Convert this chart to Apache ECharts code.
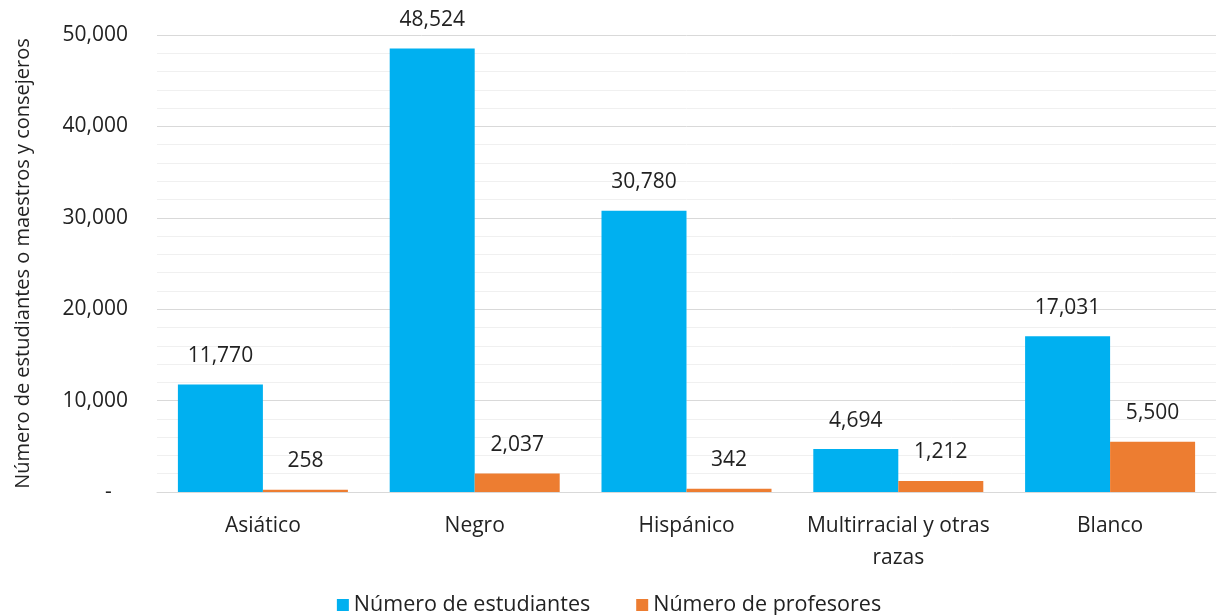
<!DOCTYPE html>
<html>
<head>
<meta charset="utf-8">
<script src="https://cdn.jsdelivr.net/npm/echarts@6/dist/echarts.min.js"></script>
<style>
  html, body { margin: 0; padding: 0; background: #fff; }
  #chart { width: 1218px; height: 615px; }
</style>
</head>
<body>
<div id="chart"></div>
<script>
// categorías y valores
const categories = ['Asiático', 'Negro', 'Hispánico', 'Multirracial y otras\nrazas', 'Blanco'];
const estudiantes = [11770, 48524, 30780, 4694, 17031];
const profesores = [258, 2037, 342, 1212, 5500];

// formato contable: el cero se muestra como guion
const fmt = v => v === 0 ? '-   ' : v.toLocaleString('en-US');
const fontFam = '"Open Sans", "Noto Sans", sans-serif';

let myChart = echarts.init(document.getElementById('chart'));

let options = {
  animation: false,
  textStyle: { fontFamily: fontFam },
  legend: {
    bottom: -6,
    left: 'center',
    itemWidth: 12,
    itemHeight: 12,
    itemGap: 46,
    icon: 'rect',
    textStyle: { fontSize: 21.5, color: '#222', fontFamily: fontFam },
    data: ['Número de estudiantes', 'Número de profesores']
  },
  grid: {
    left: 157,
    right: 2,
    top: 35,
    bottom: 123
  },
  xAxis: {
    type: 'category',
    data: categories,
    axisLine: { lineStyle: { color: '#d9d9d9', width: 1 } },
    axisTick: { show: false },
    axisLabel: {
      fontSize: 21,
      color: '#222',
      margin: 18,
      lineHeight: 32,
      interval: 0
    }
  },
  yAxis: {
    type: 'value',
    min: 0,
    max: 50000,
    interval: 10000,
    name: 'Número de estudiantes o maestros y consejeros',
    nameLocation: 'middle',
    nameGap: 124,
    nameTextStyle: { fontSize: 20, color: '#222' },
    axisLine: { show: false },
    axisTick: { show: false },
    axisLabel: {
      fontSize: 21,
      color: '#222',
      margin: 29,
      formatter: fmt
    },
    splitLine: { lineStyle: { color: '#d9d9d9', width: 1 } },
    minorTick: { show: false, splitNumber: 5 },
    minorSplitLine: { show: true, lineStyle: { color: '#f0f0f0', width: 1 } }
  },
  series: [
    {
      name: 'Número de estudiantes',
      type: 'bar',
      data: estudiantes,
      barWidth: 85,
      barGap: '0%',
      itemStyle: { color: '#00B0F0' },
      label: {
        show: true,
        position: 'top',
        distance: 18,
        fontSize: 21,
        color: '#222',
        formatter: p => fmt(p.value)
      }
    },
    {
      name: 'Número de profesores',
      type: 'bar',
      data: profesores,
      barWidth: 85,
      barGap: '0%',
      itemStyle: { color: '#ED7D31' },
      label: {
        show: true,
        position: 'top',
        distance: 18,
        fontSize: 21,
        color: '#222',
        formatter: p => fmt(p.value)
      }
    }
  ]
};

myChart.setOption(options);
</script>
</body>
</html>
